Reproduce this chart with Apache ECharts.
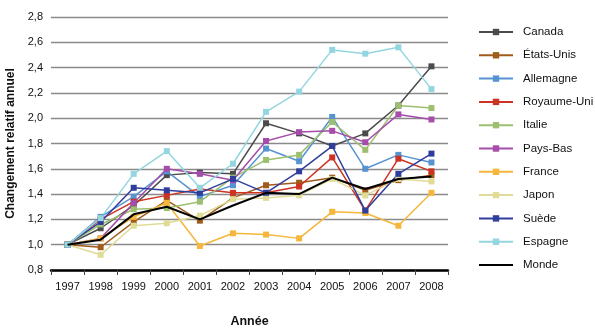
<!DOCTYPE html>
<html>
<head>
<meta charset="utf-8">
<script src="https://cdn.jsdelivr.net/npm/echarts@6/dist/echarts.min.js"></script>
<style>
html,body{margin:0;padding:0;background:#fff;}
#c{width:595px;height:328px;}
</style>
</head>
<body>
<div id="c"></div>
<script>
const years = ['1997','1998','1999','2000','2001','2002','2003','2004','2005','2006','2007','2008'];
const yTicks = [0.8, 1.0, 1.2, 1.4, 1.6, 1.8, 2.0, 2.2, 2.4, 2.6, 2.8];

const canada     = [1.00, 1.13, 1.31, 1.55, 1.57, 1.56, 1.96, 1.88, 1.78, 1.88, 2.10, 2.41];
const etatsUnis  = [1.00, 0.98, 1.18, 1.35, 1.19, 1.37, 1.47, 1.49, 1.53, 1.43, 1.51, 1.55];
const allemagne  = [1.00, 1.22, 1.38, 1.58, 1.38, 1.47, 1.76, 1.66, 2.01, 1.60, 1.71, 1.65];
const royaumeUni = [1.00, 1.20, 1.34, 1.39, 1.44, 1.41, 1.41, 1.46, 1.69, 1.27, 1.68, 1.58];
const italie     = [1.00, 1.16, 1.28, 1.29, 1.34, 1.53, 1.67, 1.71, 1.97, 1.75, 2.10, 2.08];
const paysBas    = [1.00, 1.05, 1.33, 1.60, 1.56, 1.51, 1.82, 1.89, 1.90, 1.81, 2.03, 1.99];
const france     = [1.00, 1.05, 1.22, 1.33, 0.99, 1.09, 1.08, 1.05, 1.26, 1.25, 1.15, 1.41];
const japon      = [1.00, 0.92, 1.15, 1.17, 1.23, 1.36, 1.37, 1.39, 1.52, 1.39, 1.52, 1.50];
const suede      = [1.00, 1.18, 1.45, 1.43, 1.41, 1.52, 1.41, 1.58, 1.78, 1.27, 1.56, 1.72];
const espagne    = [1.00, 1.21, 1.56, 1.74, 1.45, 1.64, 2.05, 2.21, 2.54, 2.51, 2.56, 2.23];
const monde      = [1.00, 1.04, 1.24, 1.30, 1.20, 1.31, 1.41, 1.40, 1.53, 1.44, 1.52, 1.54];

const seriesDefs = [
  ['Canada', canada, '#4b4b4d'],
  ['États-Unis', etatsUnis, '#a05c1c'],
  ['Allemagne', allemagne, '#5793d1'],
  ['Royaume-Uni', royaumeUni, '#cc3322'],
  ['Italie', italie, '#9dbf70'],
  ['Pays-Bas', paysBas, '#a64caa'],
  ['France', france, '#f5b63c'],
  ['Japon', japon, '#e0dc98'],
  ['Suède', suede, '#2f3e9c'],
  ['Espagne', espagne, '#93d6df'],
  ['Monde', monde, '#000000']
];

const series = seriesDefs.map(([name, data, color]) => {
  const isMonde = name === 'Monde';
  return {
    name, type: 'line', data,
    symbol: isMonde ? 'none' : 'rect',
    symbolSize: 6,
    showSymbol: !isMonde,
    color,
    lineStyle: { color, width: isMonde ? 2 : 1.5 },
    itemStyle: { color },
    emphasis: { disabled: true },
    animation: false,
    z: isMonde ? 3 : 2
  };
});

const legendData = seriesDefs.map(([name]) =>
  name === 'Monde' ? { name, itemStyle: { opacity: 0 } } : { name });

const chart = echarts.init(document.getElementById('c'), null, { renderer: 'canvas' });
chart.setOption({
  animation: false,
  backgroundColor: '#fff',
  textStyle: { fontFamily: 'Liberation Sans, Arial, sans-serif' },
  grid: { left: 51, right: 147, top: 17, bottom: 58, containLabel: false, outerBoundsMode: 'none' },
  legend: {
    orient: 'vertical',
    left: 478,
    top: 25,
    padding: 0,
    itemWidth: 34,
    itemHeight: 8,
    itemGap: 9.3,
    data: legendData,
    textStyle: { fontSize: 11.5, color: '#111', lineHeight: 14, padding: [0, 0, 0, 5], fontFamily: 'Liberation Sans, Arial, sans-serif' }
  },
  xAxis: {
    type: 'category',
    data: years,
    boundaryGap: true,
    name: 'Année',
    nameLocation: 'middle',
    nameGap: 45,
    nameTextStyle: { fontSize: 12.5, fontWeight: 'bold', color: '#111' },
    axisLine: { lineStyle: { color: '#000', width: 2.5 } },
    axisTick: { show: true, length: 5, lineStyle: { color: '#444', width: 1 } },
    axisLabel: { fontSize: 11, color: '#111', margin: 11 },
    splitLine: { show: false }
  },
  yAxis: {
    type: 'value',
    min: yTicks[0],
    max: yTicks[yTicks.length - 1],
    interval: 0.2,
    name: 'Changement relatif annuel',
    nameLocation: 'middle',
    nameGap: 34,
    nameRotate: 90,
    nameTextStyle: { fontSize: 12, fontWeight: 'bold', color: '#111' },
    axisLine: { show: false },
    axisTick: { show: false },
    axisLabel: { fontSize: 11, color: '#111', margin: 8, formatter: v => v.toFixed(1).replace('.', ',') },
    splitLine: { lineStyle: { color: '#8a8a8a', width: 1.3 } }
  },
  series
});
</script>
</body>
</html>
